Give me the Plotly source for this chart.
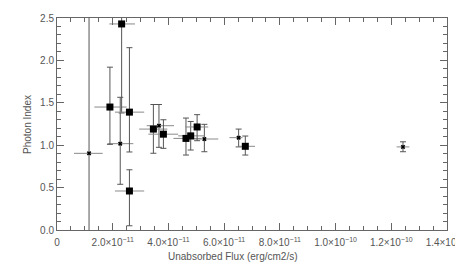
import plotly.graph_objects as go

# Large square points (flux in units of 1e-11)
sq_x = [1.90, 2.32, 2.60, 2.60, 3.46, 3.82, 4.63, 4.80, 5.03, 6.76]
sq_y = [1.45, 2.43, 1.39, 0.46, 1.19, 1.13, 1.08, 1.11, 1.215, 0.987]
sq_y_hi = [1.92, 3.50, 2.15, 0.71, 1.48, 1.30, 1.32, 1.28, 1.36, 1.108]
sq_y_lo = [1.01, 1.38, 0.92, 0.05, 0.905, 0.963, 0.884, 0.943, 1.053, 0.884]
sq_x_lo = [1.34, 1.88, 2.08, 2.08, 2.95, 3.28, 4.18, 4.35, 4.60, 6.51]
sq_x_hi = [2.50, 2.80, 3.13, 3.13, 3.96, 4.35, 5.19, 5.30, 5.43, 7.11]

# Small points
sm_x = [1.15, 2.27, 3.66, 5.29, 6.52, 12.42]
sm_y = [0.904, 1.018, 1.23, 1.073, 1.089, 0.980]
sm_y_hi = [3.50, 1.565, 1.48, 1.246, 1.19, 1.04]
sm_y_lo = [-0.50, 0.539, 0.975, 0.923, 0.98, 0.923]
sm_x_lo = [0.61, 1.81, 3.22, 4.71, 6.19, 12.19]
sm_x_hi = [1.64, 2.74, 4.20, 5.79, 6.66, 12.65]

x_ticks = [0, 2, 4, 6, 8, 10, 12, 14]
x_tick_text = ["0", "2.0×10<sup>−11</sup>", "4.0×10<sup>−11</sup>", "6.0×10<sup>−11</sup>",
               "8.0×10<sup>−11</sup>", "1.0×10<sup>−10</sup>", "1.2×10<sup>−10</sup>",
               "1.4×10<sup>−10</sup>"]
y_ticks = [0.0, 0.5, 1.0, 1.5, 2.0, 2.5]

SCALE = 1e-11
AX = "#666666"
TXT = "#555555"
FONT = "Liberation Sans"


def make_trace(xs, ys, xlo, xhi, ylo, yhi, marker):
    return go.Scatter(
        x=[v * SCALE for v in xs], y=ys, mode="markers",
        marker=marker,
        error_x=dict(type="data", symmetric=False,
                     array=[(h - v) * SCALE for h, v in zip(xhi, xs)],
                     arrayminus=[(v - l) * SCALE for l, v in zip(xlo, xs)],
                     color="#8a8a8a", thickness=1, width=0),
        error_y=dict(type="data", symmetric=False,
                     array=[h - v for h, v in zip(yhi, ys)],
                     arrayminus=[v - l for l, v in zip(ylo, ys)],
                     color="#555555", thickness=1, width=3),
        showlegend=False, hoverinfo="skip")


fig = go.Figure()
fig.add_trace(make_trace(sm_x, sm_y, sm_x_lo, sm_x_hi, sm_y_lo, sm_y_hi,
                         dict(symbol="x", size=4, color="black", line=dict(width=0))))
fig.add_trace(make_trace(sq_x, sq_y, sq_x_lo, sq_x_hi, sq_y_lo, sq_y_hi,
                         dict(symbol="square", size=7, color="black", line=dict(width=0))))

fig.update_layout(
    width=455, height=265,
    margin=dict(l=49, r=16, t=10, b=43),
    paper_bgcolor="white", plot_bgcolor="white",
    font=dict(family=FONT, size=10, color=TXT),
    xaxis=dict(range=[0, 14 * SCALE], tickvals=[v * SCALE for v in x_ticks],
               ticktext=x_tick_text, showgrid=False, zeroline=False,
               showline=True, linecolor=AX, linewidth=1, mirror="allticks",
               ticks="inside", ticklen=7, tickcolor=AX, tickwidth=1,
               ticklabelstandoff=3, automargin=False, ticklabeloverflow="allow",
               tickfont=dict(family=FONT, size=10, color=TXT),
               minor=dict(dtick=0.5 * SCALE, ticks="inside", ticklen=4,
                          tickcolor=AX, tickwidth=1, showgrid=False)),
    yaxis=dict(range=[0, 2.5], tickvals=y_ticks, tickformat=".1f",
               showgrid=False, zeroline=False, automargin=False,
               ticklabeloverflow="allow",
               showline=True, linecolor=AX, linewidth=1, mirror="allticks",
               ticks="inside", ticklen=7, tickcolor=AX, tickwidth=1,
               tickfont=dict(family=FONT, size=10, color=TXT),
               minor=dict(dtick=0.1, ticks="inside", ticklen=4,
                          tickcolor=AX, tickwidth=1, showgrid=False)),
    annotations=[
        dict(text="Unabsorbed Flux (erg/cm2/s)", xref="paper", yref="paper",
             x=0.451, y=-0.127, xanchor="center", yanchor="middle", showarrow=False,
             font=dict(family=FONT, size=10, color=TXT)),
        dict(text="Photon Index", xref="paper", yref="paper",
             x=-0.077, y=0.5, xanchor="center", yanchor="middle", showarrow=False,
             textangle=-90, font=dict(family=FONT, size=10, color=TXT)),
    ],
)

fig.write_html("out.html")
